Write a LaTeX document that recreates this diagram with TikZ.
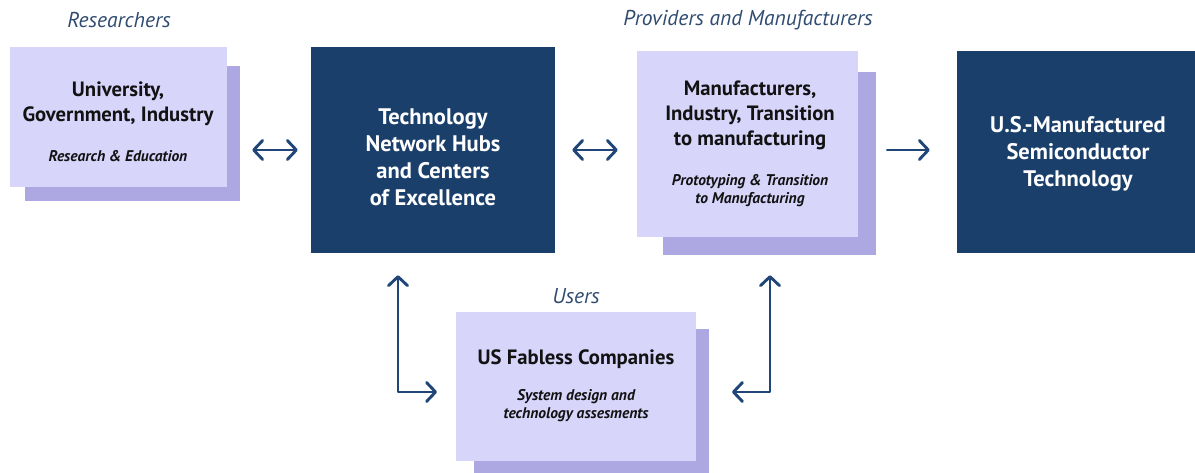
\documentclass[tikz,border=0pt]{standalone}
\usepackage{fontspec}
\setmainfont{PT Sans}
\usetikzlibrary{arrows.meta,calc}
\definecolor{darkbox}{HTML}{1B3F6B}
\definecolor{arrowcol}{HTML}{1F4676}
\definecolor{lightfill}{HTML}{D8D5FB}
\definecolor{shadowfill}{HTML}{ADA8E2}
\definecolor{labelcol}{HTML}{2F4B70}
\definecolor{textcol}{HTML}{121212}
\tikzset{
  lightbox/.style={rectangle, fill=lightfill, draw=none, inner sep=0pt},
  darkrect/.style={rectangle, fill=darkbox, draw=none, inner sep=0pt},
  title/.style={inner sep=0pt, align=center, text=textcol, font=\fontsize{20.7}{25}\selectfont\bfseries},
  subtitle/.style={inner sep=0pt, align=center, text=textcol, font=\fontsize{15.5}{18}\selectfont\bfseries\itshape},
  darktext/.style={inner sep=0pt, align=center, text=white, font=\fontsize{22.5}{27}\selectfont\bfseries},
  grouplabel/.style={inner sep=0pt, text=labelcol, font=\fontsize{21.5}{24}\selectfont\itshape},
  tipstyle/.style={},
  arr/.style={draw=arrowcol, line width=2.9pt, line cap=round, line join=round, arrows={Straight Barb[length=9pt,width=19pt,line width=2.9pt,round]-Straight Barb[length=9pt,width=19pt,line width=2.9pt,round]}},
  arrone/.style={draw=arrowcol, line width=2.9pt, line cap=round, arrows={-Straight Barb[length=9pt,width=19pt,line width=2.9pt,round]}}
}
\begin{document}
\begin{tikzpicture}[x=1pt,y=-1pt]
\useasboundingbox (0,0) rectangle (1195,473);
% shadows
\path[fill=shadowfill] (25,66) rectangle (240,201);
\path[fill=shadowfill] (663,72) rectangle (876,255);
\path[fill=shadowfill] (474,329) rectangle (709,473);
% boxes
\node[lightbox, minimum width=217pt, minimum height=140pt] (b1) at (118.5,117) {};
\node[darkrect, minimum width=244pt, minimum height=206pt] (b2) at (433,150) {};
\node[lightbox, minimum width=221pt, minimum height=186pt] (b3) at (747.5,144) {};
\node[darkrect, minimum width=238pt, minimum height=202pt] (b4) at (1076,152.5) {};
\node[lightbox, minimum width=240pt, minimum height=149pt] (b5) at (576,386.5) {};
% texts
\node[title] (t1) at (118,104) {University,\\Government, Industry};
\node[subtitle] (s1) at (118,156) {Research \& Education};
\node[darktext] (t2) at (433,157) {Technology\\Network Hubs\\and Centers\\of Excellence};
\node[title] (t3) at (750,115) {Manufacturers,\\Industry, Transition\\to manufacturing};
\node[subtitle] (s3) at (750,190.5) {Prototyping \& Transition\\to Manufacturing};
\node[darktext] (t4) at (1078,154) {U.S.-Manufactured\\Semiconductor\\Technology};
\node[title] (t5) at (576,359) {US Fabless Companies};
\node[subtitle] (s5) at (576,406) {System design and\\technology assesments};
% group labels
\node[grouplabel] (l1) at (119,20) {Researchers};
\node[grouplabel] (l2) at (748,20) {Providers and Manufacturers};
\node[grouplabel] (l3) at (576,296) {Users};
% connectors
\draw[arr, shorten <=25pt, shorten >=13pt] (b1.east |- b2.west) -- (b2.west);
\draw[arr, shorten <=17pt, shorten >=19pt] (b2.east) -- (b2.east -| b3.west);
\draw[arrone, shorten <=29pt, shorten >=27pt] (b2.east -| b3.east) -- (b2.east -| b4.west);
\coordinate (e1) at ($(b2.south)+(-35,22)$);
\coordinate (e1c) at (e1 |- 0,392);
\coordinate (e1t) at (437,392);
\draw[arr] (e1) -- (e1c) -- (e1t);
\coordinate (e2) at ($(b3.south)+(22.5,38)$);
\coordinate (e2c) at (e2 |- 0,392);
\coordinate (e2t) at (732,392);
\draw[arr] (e2) -- (e2c) -- (e2t);
\end{tikzpicture}
\end{document}
